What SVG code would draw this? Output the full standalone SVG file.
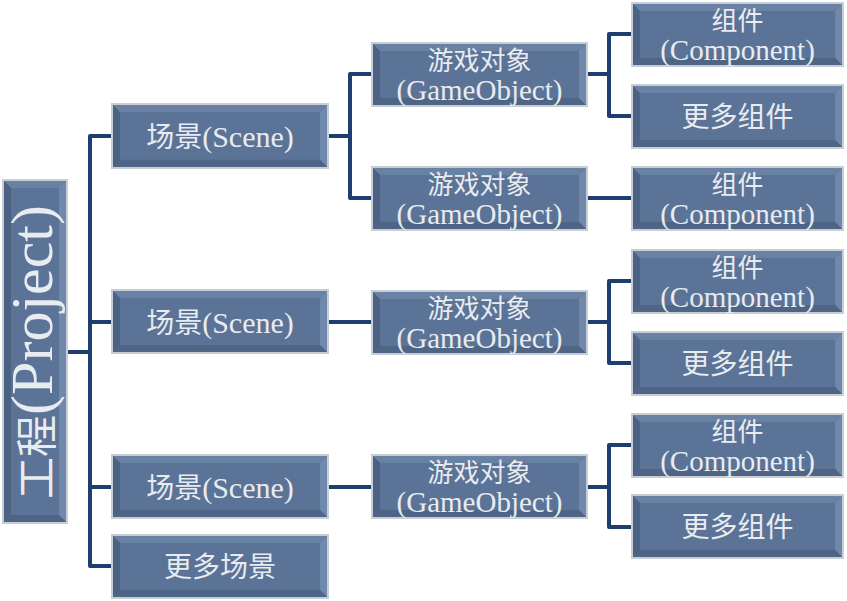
<svg xmlns="http://www.w3.org/2000/svg" xmlns:xlink="http://www.w3.org/1999/xlink" width="847" height="601" viewBox="0 0 847 601">
<style>
.t{font-family:"Liberation Serif","Noto Sans CJK SC",serif;fill:#e8ebf0;text-anchor:middle}
.c{font-family:"Noto Sans CJK SC",sans-serif;font-size:28px}
.c2{font-family:"Noto Sans CJK SC",sans-serif;font-size:26px}
.l{font-size:30px}
.l2{font-size:29px}
.rim{fill:none;stroke:#c9ced6;stroke-width:2}
.cn{fill:none;stroke:#1f3e70;stroke-width:4;stroke-linejoin:round}
</style>
<defs>
<symbol id="bev" viewBox="0 0 215 63" preserveAspectRatio="none">
<rect width="215" height="63" fill="#5a7396"/>
<polygon points="0,0 215,0 207,8 8,8" fill="#6981a3"/>
<polygon points="0,0 8,8 8,55 0,63" fill="#4b6283"/>
<polygon points="215,0 215,63 207,55 207,8" fill="#6f88ab"/>
<polygon points="0,63 8,55 207,55 215,63" fill="#4e6586"/>
</symbol>
</defs>
<rect width="847" height="601" fill="#ffffff"/>
<g id="connectors">
<polyline class="cn" points="67,352 90,352"/>
<polyline class="cn" points="112,136 90,136 90,566 112,566"/>
<polyline class="cn" points="90,322 112,322"/>
<polyline class="cn" points="90,487 112,487"/>
<polyline class="cn" points="328,136 350,136"/>
<polyline class="cn" points="372,74 350,74 350,198 372,198"/>
<polyline class="cn" points="328,322 372,322"/>
<polyline class="cn" points="328,487 372,487"/>
<polyline class="cn" points="587,74 609,74"/>
<polyline class="cn" points="632,34 609,34 609,116 632,116"/>
<polyline class="cn" points="587,198 632,198"/>
<polyline class="cn" points="587,322 609,322"/>
<polyline class="cn" points="632,281 609,281 609,363 632,363"/>
<polyline class="cn" points="587,487 609,487"/>
<polyline class="cn" points="632,445 609,445 609,527 632,527"/>
</g>
<g id="project">
<rect x="3" y="180" width="64" height="343" fill="#5a7396"/>
<polygon points="3,180 67,180 59,188 11,188" fill="#6981a3"/>
<polygon points="3,180 11,188 11,515 3,523" fill="#4b6283"/>
<polygon points="67,180 67,523 59,515 59,188" fill="#6f88ab"/>
<polygon points="3,523 11,515 59,515 67,523" fill="#4e6586"/>
<rect class="rim" x="3" y="180" width="64" height="343"/>
<text class="t" transform="translate(52,352) rotate(-90)"><tspan class="c" style="font-size:42px">工程</tspan><tspan style="font-size:60px">(Project)</tspan></text>
</g>
<g id="scene1">
<use href="#bev" x="112" y="104" width="216" height="64"/>
<rect class="rim" x="112" y="104" width="216" height="64"/>
<text class="t" x="220" y="147"><tspan class="c">场景</tspan><tspan class="l">(Scene)</tspan></text>
</g>
<g id="scene2">
<use href="#bev" x="112" y="290" width="216" height="63"/>
<rect class="rim" x="112" y="290" width="216" height="63"/>
<text class="t" x="220" y="333"><tspan class="c">场景</tspan><tspan class="l">(Scene)</tspan></text>
</g>
<g id="scene3">
<use href="#bev" x="112" y="455" width="216" height="63"/>
<rect class="rim" x="112" y="455" width="216" height="63"/>
<text class="t" x="220" y="498"><tspan class="c">场景</tspan><tspan class="l">(Scene)</tspan></text>
</g>
<g id="moreScenes">
<use href="#bev" x="112" y="535" width="216" height="63"/>
<rect class="rim" x="112" y="535" width="216" height="63"/>
<text class="t c" x="220" y="577">更多场景</text>
</g>
<g id="go1">
<use href="#bev" x="372" y="43" width="215" height="63"/>
<rect class="rim" x="372" y="43" width="215" height="63"/>
<text class="t c2" x="479.5" y="70">游戏对象</text>
<text class="t l2" x="479.5" y="100">(GameObject)</text>
</g>
<g id="go2">
<use href="#bev" x="372" y="167" width="215" height="63"/>
<rect class="rim" x="372" y="167" width="215" height="63"/>
<text class="t c2" x="479.5" y="194">游戏对象</text>
<text class="t l2" x="479.5" y="224">(GameObject)</text>
</g>
<g id="go3">
<use href="#bev" x="372" y="291" width="215" height="63"/>
<rect class="rim" x="372" y="291" width="215" height="63"/>
<text class="t c2" x="479.5" y="318">游戏对象</text>
<text class="t l2" x="479.5" y="348">(GameObject)</text>
</g>
<g id="go4">
<use href="#bev" x="372" y="455" width="215" height="63"/>
<rect class="rim" x="372" y="455" width="215" height="63"/>
<text class="t c2" x="479.5" y="482">游戏对象</text>
<text class="t l2" x="479.5" y="512">(GameObject)</text>
</g>
<g id="comp1">
<use href="#bev" x="632" y="3" width="211" height="63"/>
<rect class="rim" x="632" y="3" width="211" height="63"/>
<text class="t c2" x="737.5" y="30">组件</text>
<text class="t l2" x="737.5" y="60">(Component)</text>
</g>
<g id="more1">
<use href="#bev" x="632" y="85" width="211" height="63"/>
<rect class="rim" x="632" y="85" width="211" height="63"/>
<text class="t c" x="737.5" y="127">更多组件</text>
</g>
<g id="comp2">
<use href="#bev" x="632" y="167" width="211" height="63"/>
<rect class="rim" x="632" y="167" width="211" height="63"/>
<text class="t c2" x="737.5" y="194">组件</text>
<text class="t l2" x="737.5" y="224">(Component)</text>
</g>
<g id="comp3">
<use href="#bev" x="632" y="250" width="211" height="63"/>
<rect class="rim" x="632" y="250" width="211" height="63"/>
<text class="t c2" x="737.5" y="277">组件</text>
<text class="t l2" x="737.5" y="307">(Component)</text>
</g>
<g id="more3">
<use href="#bev" x="632" y="332" width="211" height="63"/>
<rect class="rim" x="632" y="332" width="211" height="63"/>
<text class="t c" x="737.5" y="374">更多组件</text>
</g>
<g id="comp4">
<use href="#bev" x="632" y="414" width="211" height="63"/>
<rect class="rim" x="632" y="414" width="211" height="63"/>
<text class="t c2" x="737.5" y="441">组件</text>
<text class="t l2" x="737.5" y="471">(Component)</text>
</g>
<g id="more4">
<use href="#bev" x="632" y="495" width="211" height="63"/>
<rect class="rim" x="632" y="495" width="211" height="63"/>
<text class="t c" x="737.5" y="537">更多组件</text>
</g>
</svg>
